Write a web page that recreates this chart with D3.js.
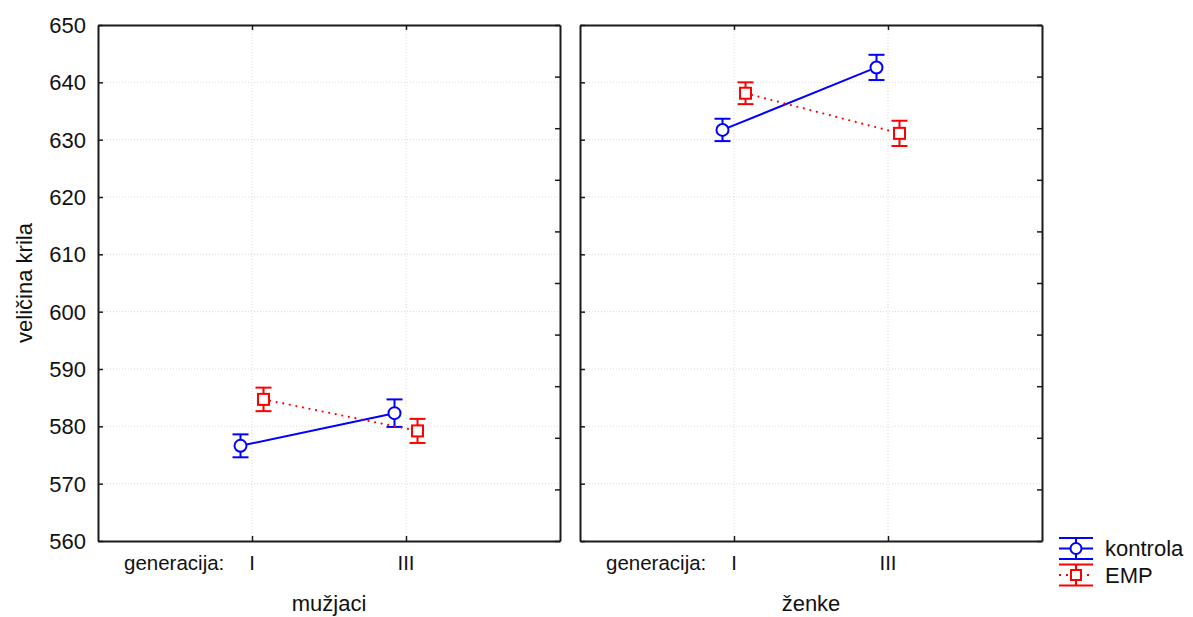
<!DOCTYPE html>
<html>
<head>
<meta charset="utf-8">
<script src="https://cdn.jsdelivr.net/npm/d3@7"></script>
<style>
body { margin: 0; background: #fff; }
svg { font-family: "Liberation Sans", Arial, sans-serif; }
</style>
</head>
<body>
<script>
// podaci
let groups = ["mužjaci", "ženke"]
let generations = ["I", "III"]
let seriesNames = ["kontrola", "EMP"]
let kontrolaMean = [[576.6, 582.3], [631.7, 642.6]]
let kontrolaSE = [[2.0, 2.4], [1.95, 2.2]]
let empMean = [[584.7, 579.2], [638.1, 631.1]]
let empSE = [[2.05, 2.1], [1.9, 2.2]]
let yTicks = [560, 570, 580, 590, 600, 610, 620, 630, 640, 650]

let width = 1193
let height = 617
let panelW = 462
let panelX = [98, 580]
let plotTop = 25, plotBottom = 541
let colors = ["#0000ff", "#ff0000"]
let offset = [-11.5, 11.5]

const svg = d3.select("body").append("svg")
    .attr("width", width)
    .attr("height", height)

let y = d3.scaleLinear()
    .domain([560, 650])
    .range([plotBottom, plotTop])

// sekundarna skala za desnu osu (samo crtice)
let y2 = d3.scaleLinear()
    .domain([0, 10])
    .range([plotBottom, plotTop])

let series = [
    {name: seriesNames[0], mean: kontrolaMean, se: kontrolaSE},
    {name: seriesNames[1], mean: empMean, se: empSE}
]

groups.forEach((grp, gi) => {
    let x0 = panelX[gi]
    let x = d3.scalePoint()
        .domain(generations)
        .range([x0, x0 + panelW])
        .padding(1)

    const g = svg.append("g")

    // mreza
    g.append("g")
        .selectAll("line")
        .data(yTicks.slice(1, -1))
        .join("line")
        .attr("x1", x0).attr("x2", x0 + panelW)
        .attr("y1", d => y(d)).attr("y2", d => y(d))
        .attr("stroke", "#dadada")
        .attr("stroke-width", 1)
        .attr("stroke-dasharray", "1,2")
    g.append("g")
        .selectAll("line")
        .data(generations)
        .join("line")
        .attr("x1", d => x(d)).attr("x2", d => x(d))
        .attr("y1", plotTop).attr("y2", plotBottom)
        .attr("stroke", "#dadada")
        .attr("stroke-width", 1)
        .attr("stroke-dasharray", "1,2")

    // ose
    const axStyle = a => a.call(s => s.selectAll("path, line").attr("stroke", "#1a1a1a"))
        .call(s => s.select(".domain").attr("stroke-width", 2))
        .call(s => s.selectAll(".tick line").attr("stroke-width", 1.5))

    g.append("g")
        .attr("transform", `translate(${x0},0)`)
        .call(d3.axisRight(y).tickValues(yTicks).tickSize(5).tickSizeOuter(0).tickFormat(""))
        .call(axStyle)
    g.append("g")
        .attr("transform", `translate(${x0 + panelW},0)`)
        .call(d3.axisLeft(y2).ticks(10).tickSize(5).tickSizeOuter(0).tickFormat(""))
        .call(axStyle)
    g.append("g")
        .attr("transform", `translate(0,${plotTop})`)
        .call(d3.axisBottom(x).tickSize(5).tickSizeOuter(0).tickFormat(""))
        .call(axStyle)
    g.append("g")
        .attr("transform", `translate(0,${plotBottom})`)
        .call(d3.axisTop(x).tickSize(5).tickSizeOuter(0).tickFormat(""))
        .call(axStyle)

    if (gi === 0) {
        g.append("g")
            .selectAll("text")
            .data(yTicks)
            .join("text")
            .attr("x", x0 - 12)
            .attr("y", d => y(d))
            .attr("dy", "0.36em")
            .attr("text-anchor", "end")
            .attr("font-size", 22)
            .attr("fill", "#111")
            .text(d => d)
    }

    // oznake kategorija
    g.append("text")
        .attr("x", x0 + 26)
        .attr("y", 570)
        .attr("font-size", 20.5)
        .attr("fill", "#111")
        .text("generacija:")
    g.append("g")
        .selectAll("text")
        .data(generations)
        .join("text")
        .attr("x", d => x(d))
        .attr("y", 570)
        .attr("text-anchor", "middle")
        .attr("font-size", 20.5)
        .attr("fill", "#111")
        .text(d => d)

    g.append("text")
        .attr("x", x0 + panelW / 2)
        .attr("y", 611)
        .attr("text-anchor", "middle")
        .attr("font-size", 22)
        .attr("fill", "#111")
        .text(grp)

    // serije
    series.forEach((s, si) => {
        let pts = generations.map((gen, k) => ({
            x: x(gen) + offset[si],
            m: s.mean[gi][k],
            se: s.se[gi][k]
        }))
        let sg = g.append("g").attr("stroke", colors[si]).attr("fill", "none")

        sg.append("path")
            .datum(pts)
            .attr("d", d3.line().x(d => d.x).y(d => y(d.m)))
            .attr("stroke-width", si === 0 ? 2 : 2.2)
            .attr("stroke-dasharray", si === 0 ? null : "0,6.7")
            .attr("stroke-linecap", si === 0 ? "butt" : "round")

        pts.forEach(p => {
            sg.append("line")
                .attr("x1", p.x).attr("x2", p.x)
                .attr("y1", y(p.m + p.se)).attr("y2", y(p.m - p.se))
                .attr("stroke-width", 2)
            sg.selectAll(null)
                .data([p.m + p.se, p.m - p.se])
                .join("line")
                .attr("x1", p.x - 8).attr("x2", p.x + 8)
                .attr("y1", d => y(d)).attr("y2", d => y(d))
                .attr("stroke-width", 2)
            if (si === 0) {
                sg.append("circle")
                    .attr("cx", p.x).attr("cy", y(p.m))
                    .attr("r", 6)
                    .attr("fill", "#fff")
                    .attr("stroke-width", 2)
            } else {
                sg.append("rect")
                    .attr("x", p.x - 5.5).attr("y", y(p.m) - 5.5)
                    .attr("width", 11).attr("height", 11)
                    .attr("fill", "#fff")
                    .attr("stroke-width", 2)
            }
        })
    })
})

// y naslov
svg.append("text")
    .attr("transform", "translate(32,283) rotate(-90)")
    .attr("text-anchor", "middle")
    .attr("font-size", 22)
    .attr("fill", "#111")
    .text("veličina krila")

// legenda
const leg = svg.append("g")
let legX = 1059, legW = 34
series.forEach((s, si) => {
    let cy = si === 0 ? 548.5 : 575
    let lg = leg.append("g").attr("stroke", colors[si]).attr("fill", "none").attr("stroke-width", 2)
    lg.append("line").attr("x1", legX).attr("x2", legX + legW).attr("y1", cy - 10.5).attr("y2", cy - 10.5)
    lg.append("line").attr("x1", legX).attr("x2", legX + legW).attr("y1", cy + 10.5).attr("y2", cy + 10.5)
    lg.append("line").attr("x1", legX + legW / 2).attr("x2", legX + legW / 2).attr("y1", cy - 10.5).attr("y2", cy + 10.5)
    lg.append("line").attr("x1", legX).attr("x2", legX + legW).attr("y1", cy).attr("y2", cy)
        .attr("stroke-dasharray", si === 0 ? null : "2,5")
    if (si === 0) {
        lg.append("circle").attr("cx", legX + legW / 2).attr("cy", cy).attr("r", 5.5).attr("fill", "#fff")
    } else {
        lg.append("rect").attr("x", legX + legW / 2 - 5).attr("y", cy - 5).attr("width", 10).attr("height", 10).attr("fill", "#fff")
    }
    leg.append("text")
        .attr("x", 1105)
        .attr("y", cy)
        .attr("dy", "0.36em")
        .attr("font-size", 22)
        .attr("fill", "#111")
        .text(s.name)
})
</script>
</body>
</html>
